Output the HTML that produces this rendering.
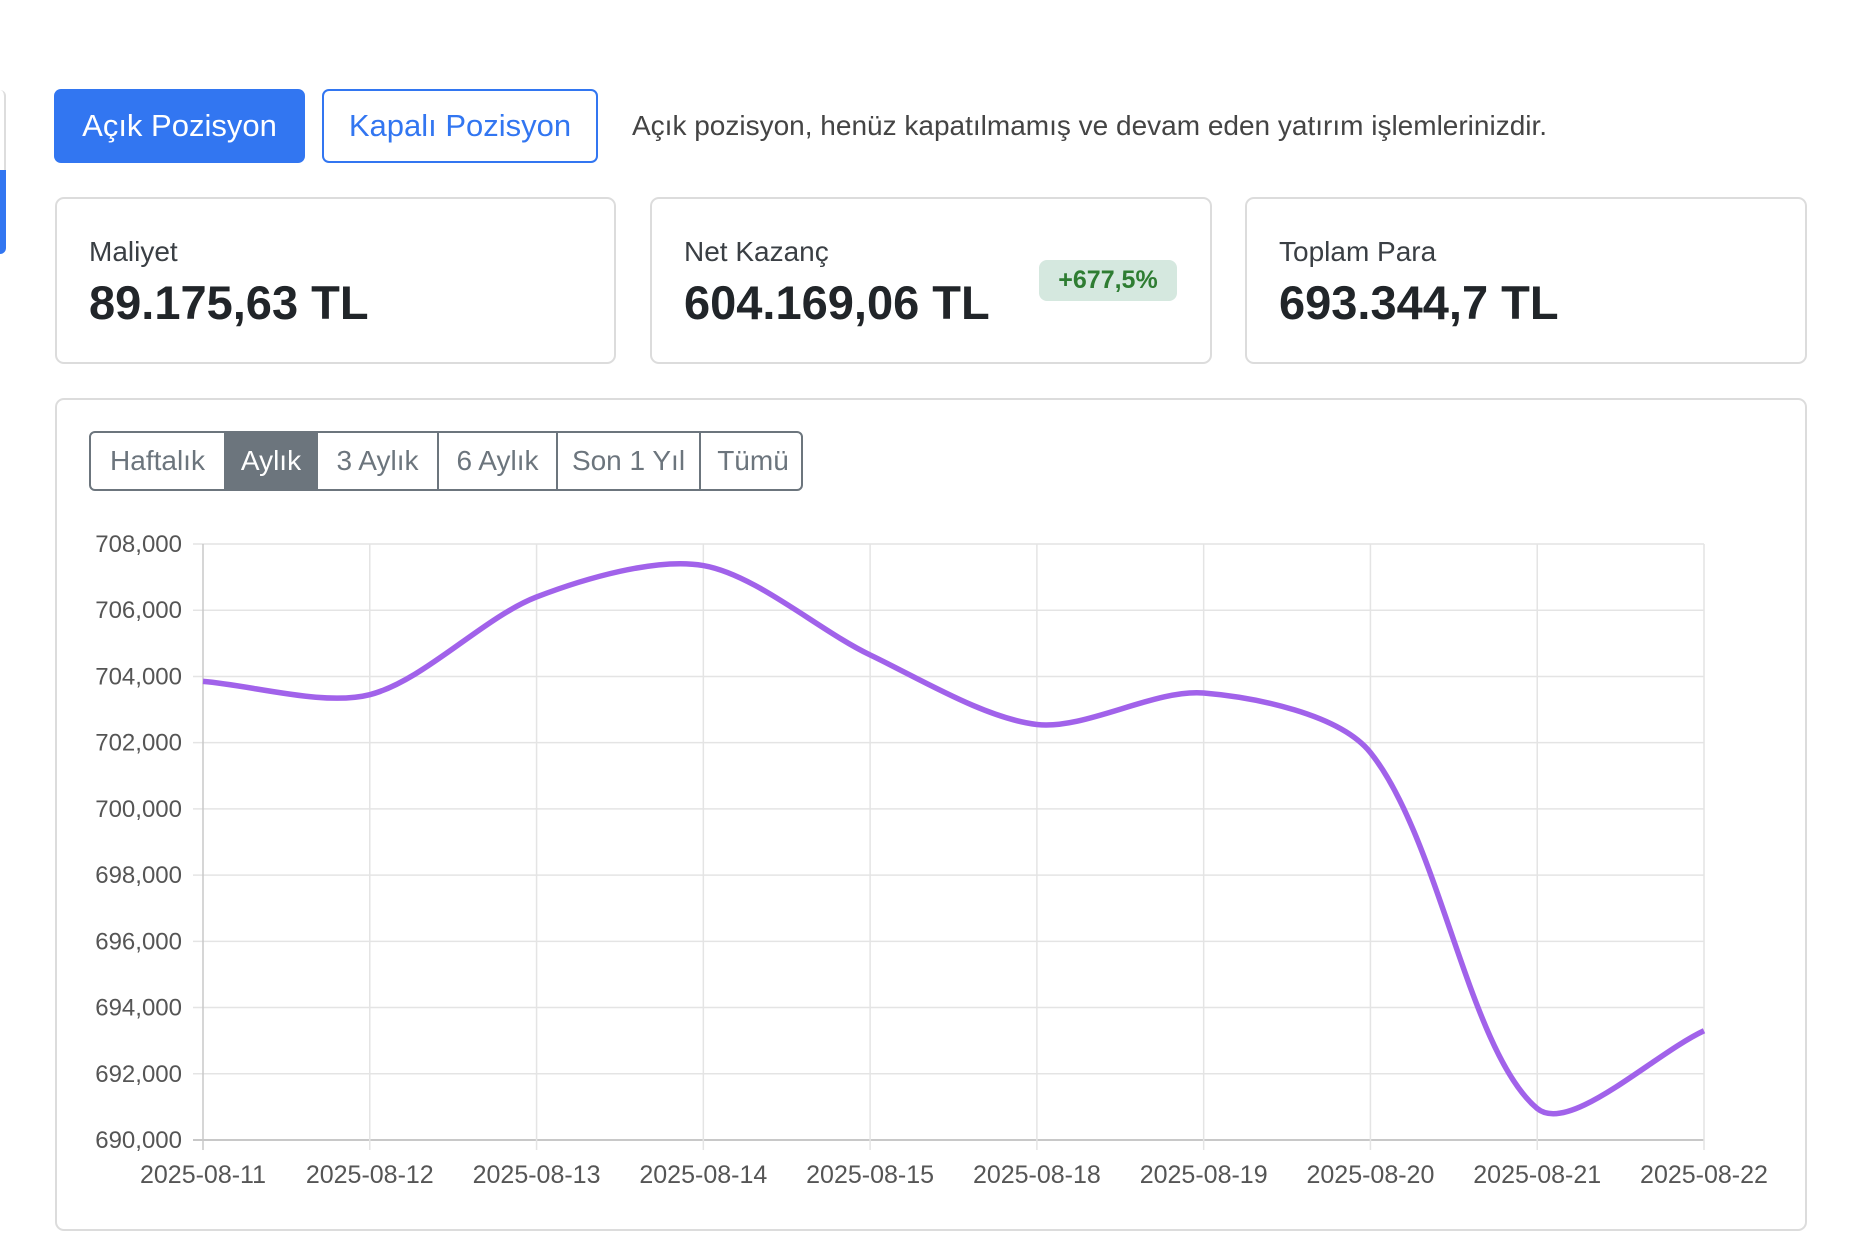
<!DOCTYPE html>
<html><head><meta charset="utf-8">
<style>
body{margin:0;width:1850px;height:1256px;background:#fff;font-family:"Liberation Sans",sans-serif;position:relative;overflow:hidden;color:#212529}
.abs{position:absolute;box-sizing:border-box}
.btn{border-radius:7px;font-size:31px;display:flex;align-items:center;justify-content:center}
.card{border:2px solid #dcdcdc;border-radius:9px;background:#fff}
.lbl{font-size:28px;color:#3a3f44}
.val{font-size:47px;font-weight:bold;color:#212529}
.seg{position:absolute;top:0;height:100%;display:flex;align-items:center;justify-content:center;font-size:28px;color:#6c757d;border-left:2px solid #6c757d;box-sizing:border-box}
</style></head><body>
<div class="abs" style="left:0;top:90px;width:6px;height:80px;border-right:2px solid #ddd;border-top-right-radius:6px"></div>
<div class="abs" style="left:0;top:170px;width:6px;height:84px;background:#3276f1;border-bottom-right-radius:6px"></div>

<div class="abs btn" style="left:54px;top:89px;width:251px;height:74px;background:#3276f1;color:#fff">Açık Pozisyon</div>
<div class="abs btn" style="left:322px;top:89px;width:276px;height:74px;border:2px solid #3276f1;color:#3276f1">Kapalı Pozisyon</div>
<div class="abs" style="left:632px;top:110px;font-size:28px;color:#444">Açık pozisyon, henüz kapatılmamış ve devam eden yatırım işlemlerinizdir.</div>

<div class="abs card" style="left:55px;top:197px;width:561px;height:167px">
 <div class="abs lbl" style="left:32px;top:37px">Maliyet</div>
 <div class="abs val" style="left:32px;top:76px">89.175,63 TL</div>
</div>
<div class="abs card" style="left:650px;top:197px;width:562px;height:167px">
 <div class="abs lbl" style="left:32px;top:37px">Net Kazanç</div>
 <div class="abs val" style="left:32px;top:76px">604.169,06 TL</div>
 <div class="abs" style="left:387px;top:61px;width:138px;height:41px;background:#d5e8df;border-radius:8px;color:#2e7d32;font-weight:bold;font-size:25px;display:flex;align-items:center;justify-content:center">+677,5%</div>
</div>
<div class="abs card" style="left:1245px;top:197px;width:562px;height:167px">
 <div class="abs lbl" style="left:32px;top:37px">Toplam Para</div>
 <div class="abs val" style="left:32px;top:76px">693.344,7 TL</div>
</div>

<div class="abs card" style="left:55px;top:398px;width:1752px;height:833px"></div>
<div class="abs" style="left:89px;top:431px;width:714px;height:60px;border:2px solid #6c757d;border-radius:6px;overflow:hidden">
 <div class="seg" style="left:0;width:133px;border-left:none">Haftalık</div>
 <div class="seg" style="left:133px;width:94px;background:#6c757d;color:#fff;border-left:none">Aylık</div>
 <div class="seg" style="left:227px;width:119px;border-left:none">3 Aylık</div>
 <div class="seg" style="left:346px;width:119px">6 Aylık</div>
 <div class="seg" style="left:465px;width:143px">Son 1 Yıl</div>
 <div class="seg" style="left:608px;width:106px">Tümü</div>
</div>

<svg class="abs" id="chart" style="left:0;top:0" width="1850" height="1256"></svg>
<script>
const categories=["2025-08-11","2025-08-12","2025-08-13","2025-08-14","2025-08-15","2025-08-18","2025-08-19","2025-08-20","2025-08-21","2025-08-22"];
const values=[703850,703450,706400,707350,704650,702550,703500,701700,690950,693300];
const yTicks=[690000,692000,694000,696000,698000,700000,702000,704000,706000,708000];
const yMin=690000,yMax=708000;
const L=203,R=1704,T=544,B=1140;
const svg=document.getElementById('chart');
const NS='http://www.w3.org/2000/svg';
function xs(i){return L+(R-L)*i/(categories.length-1);}
function ys(v){return B-(v-yMin)/(yMax-yMin)*(B-T);}
function mk(tag,attrs){const e=document.createElementNS(NS,tag);for(const k in attrs)e.setAttribute(k,attrs[k]);svg.appendChild(e);return e;}
yTicks.forEach((t,i)=>{
 const g=mk('line',{x1:L-10,x2:R,y1:ys(t),y2:ys(t),stroke:i===0?'#c8c8c8':'#e4e4e4','stroke-width':i===0?2:1.5});
 
 
 const tx=mk('text',{x:L-21,y:ys(t)+8,'text-anchor':'end','font-size':24,fill:'#555','font-family':'Liberation Sans, sans-serif'});
 tx.textContent=t.toLocaleString('en-US');
 
 
});
categories.forEach((c,i)=>{
 const g=mk('line',{x1:xs(i),x2:xs(i),y1:T,y2:B+10,stroke:i===0?'#c8c8c8':'#e4e4e4','stroke-width':1.5});
 
 
 const tx=mk('text',{x:xs(i),y:B+43,'text-anchor':'middle','font-size':25,fill:'#555','font-family':'Liberation Sans, sans-serif'});
 tx.textContent=c;
 
 
});
const pts=values.map((v,i)=>({x:xs(i),y:ys(v)}));
const t=0.3;const cps=[];
for(let i=0;i<pts.length;i++){
 const p=pts[Math.max(0,i-1)],c=pts[i],n=pts[Math.min(pts.length-1,i+1)];
 const d01=Math.hypot(c.x-p.x,c.y-p.y),d12=Math.hypot(n.x-c.x,n.y-c.y);
 let fa=d01/(d01+d12)||0,fb=d12/(d01+d12)||0;fa*=t;fb*=t;
 cps.push({px:c.x-fa*(n.x-p.x),py:c.y-fa*(n.y-p.y),nx:c.x+fb*(n.x-p.x),ny:c.y+fb*(n.y-p.y)});
}
let d='M'+pts[0].x+' '+pts[0].y;
for(let i=1;i<pts.length;i++){d+=' C'+cps[i-1].nx+' '+cps[i-1].ny+' '+cps[i].px+' '+cps[i].py+' '+pts[i].x+' '+pts[i].y;}
const line=mk('path',{d:d,fill:'none',stroke:'#a162ea','stroke-width':5.5,'stroke-linejoin':'round'});


</script>
</body></html>
